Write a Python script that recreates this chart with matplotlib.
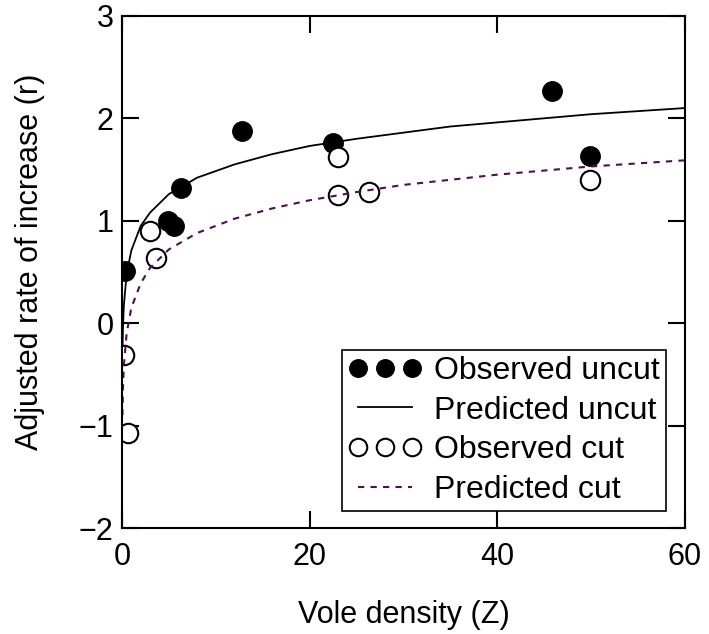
import numpy as np
import matplotlib
matplotlib.use("Agg")
import matplotlib.pyplot as plt

plt.rcParams['font.family'] = ['Liberation Sans', 'DejaVu Sans']

# observed points
uncut_x = [0.3, 4.9, 5.6, 6.3, 12.8, 22.5, 45.8, 49.9]
uncut_y = [0.51, 1.00, 0.95, 1.32, 1.88, 1.76, 2.27, 1.63]
cut_x = [0.2, 0.6, 3.0, 3.6, 23.0, 23.0, 26.3, 49.9]
cut_y = [-0.31, -1.07, 0.90, 0.64, 1.62, 1.25, 1.28, 1.40]

# predicted curves
pred_x = [0.05, 0.1, 0.2, 0.5, 1, 2, 3, 5, 8, 12, 16, 20, 25, 30, 35, 40, 45, 50, 55, 60]
pred_uncut = [-0.30, -0.07, 0.17, 0.48, 0.71, 0.95, 1.08, 1.26, 1.42, 1.55, 1.65, 1.73,
              1.80, 1.86, 1.92, 1.96, 2.00, 2.04, 2.07, 2.10]
pred_cut = [-0.90, -0.66, -0.42, -0.10, 0.15, 0.39, 0.54, 0.72, 0.88, 1.02, 1.12, 1.20,
            1.28, 1.35, 1.40, 1.45, 1.49, 1.53, 1.56, 1.59]

fig = plt.figure(figsize=(7.09, 6.34), dpi=100)
ax = fig.add_axes([0.172, 0.167, 0.794, 0.808])

ax.plot(uncut_x, uncut_y, 'o', color='black', markersize=14, label='Observed uncut')
ax.plot(pred_x, pred_uncut, '-', color='black', lw=1.3, label='Predicted uncut')
ax.plot(cut_x, cut_y, 'o', markerfacecolor='white', markeredgecolor='black',
        markeredgewidth=1.5, markersize=14, label='Observed cut')
ax.plot(pred_x, pred_cut, '--', color='#4a1050', lw=1.5, dashes=(3, 3), label='Predicted cut')

ax.set_xlim(0, 60)
ax.set_ylim(-2, 3)
ax.set_xticks([0, 20, 40, 60])
ax.set_yticks([-2, -1, 0, 1, 2, 3])
ax.tick_params(direction='in', length=12, width=1.5, labelsize=22,
               top=True, right=True)
ax.tick_params(axis='x', pad=10)
ax.tick_params(axis='y', pad=6)
for s in ax.spines.values():
    s.set_linewidth(1.5)

ax.set_xlabel('Vole density (Z)', fontsize=22, labelpad=20)
ax.set_ylabel('Adjusted rate of increase (r)', fontsize=22)
ax.yaxis.set_label_coords(-0.137, 0.52)

leg = ax.legend(loc='lower right', bbox_to_anchor=(0.967, 0.033), numpoints=3,
                fontsize=23, fancybox=False, framealpha=1, edgecolor='black',
                handlelength=2.3, handletextpad=0.4, borderpad=0.2,
                labelspacing=0.3, borderaxespad=0, markerscale=0.9)
leg.get_frame().set_linewidth(1.2)

fig.savefig('out.png', dpi=100)
